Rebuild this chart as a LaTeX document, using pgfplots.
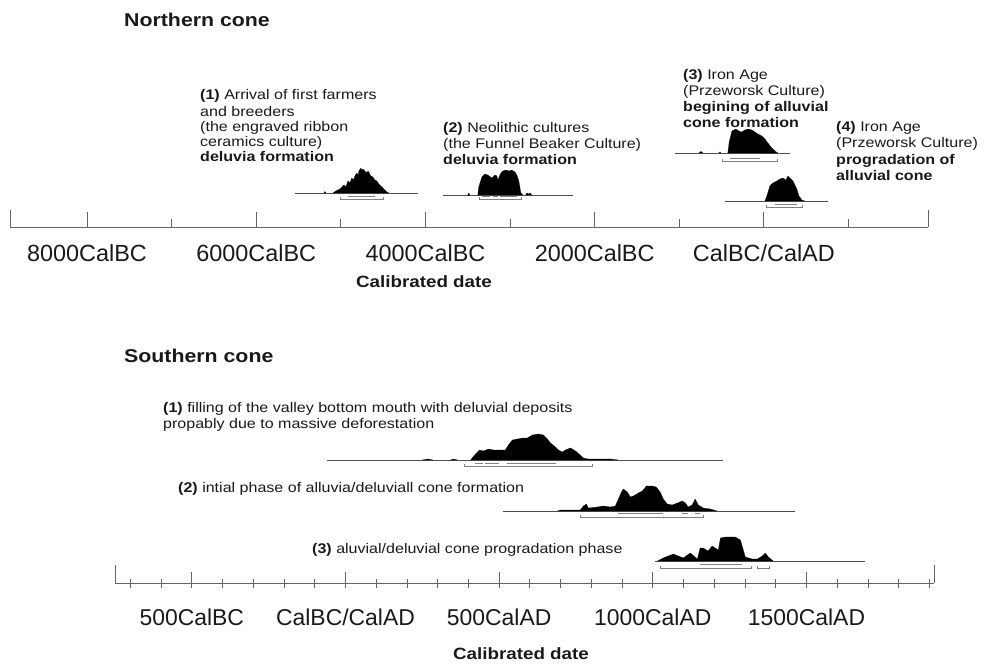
\documentclass[border=0pt]{standalone}
\usepackage{fontspec}
\setmainfont{Liberation Sans}[FakeStretch=1.15]
\newfontfamily\plainsans{Liberation Sans}
\usepackage{pgfplots}
\pgfplotsset{compat=1.18}
\newcommand{\ann}{\fontsize{14}{16}\selectfont}
\newcommand{\tit}{\fontsize{18.6}{22}\selectfont\bfseries}
\newcommand{\lab}{\fontsize{16.4}{20}\selectfont\bfseries}
\pgfplotsset{cone/.style={scale only axis, axis x line=bottom, axis y line=none,
  at={(0pt,0pt)}, anchor=south west,
  x axis line style={-, black!60, line width=0.9pt},
  every tick/.style={black!60, line width=0.9pt}, tick align=inside, ymin=0, clip=false,
  xticklabel style={anchor=base, text=black!90}},
  dist/.style={fill=black, draw=black, line width=0.2pt},
  base/.style={black!70, line width=0.8pt},
  brk/.style={black!50, line width=0.7pt}}
\begin{document}
\begin{tikzpicture}[x=1bp,y=1bp]
\useasboundingbox (0,0) rectangle (992,-668);
% ---------------- Northern cone ----------------
\begin{scope}[shift={(10bp,-227bp)}]
\begin{axis}[cone, width=918bp, height=150bp,
  xmin=-8910, xmax=1940, ymax=150,
  xtick={-8000,-6000,-4000,-2000,0},
  xticklabels={8000CalBC,6000CalBC,4000CalBC,2000CalBC,CalBC/CalAD},
  major tick length=15bp, minor xtick={-7000,-5000,-3000,-1000,1000}, minor tick length=8bp,
  extra x ticks={-8910,1940}, extra x tick labels={}, extra x tick style={major tick length=17bp},
  xticklabel style={yshift=-34.5bp, font=\plainsans\fontsize{23.5}{26}\selectfont}]
% (1)
\addplot[base] coordinates {(-5544,34) (-4090,34)};
\addplot[dist] coordinates {(-5200,34) (-5189,35.5) (-5175,34)};
\addplot[dist] coordinates {(-5094,34) (-5059,36) (-5012,38) (-4964,42) (-4940,40) (-4917,46) (-4893,44) (-4870,49) (-4850,47) (-4834,51) (-4811,54) (-4795,52) (-4787,56) (-4763,59) (-4752,57) (-4740,58) (-4716,56) (-4693,54) (-4680,56) (-4669,55) (-4645,51) (-4622,50) (-4598,47) (-4574,46) (-4551,43) (-4527,41) (-4503,39) (-4480,37) (-4456,35) (-4433,34)};
\addplot[brk] coordinates {(-5000,30) (-5000,28) (-4492,28) (-4492,30)};
\addplot[brk] coordinates {(-4917,30.5) (-4598,30.5)};
% (2)
\addplot[base] coordinates {(-3794,32) (-2258,32)};
\addplot[dist] coordinates {(-3500,32) (-3487,34) (-3475,32)};
\addplot[dist] coordinates {(-3381,32) (-3370,40) (-3333,50) (-3298,53) (-3262,52) (-3215,49) (-3180,52) (-3156,51) (-3144,47) (-3109,54) (-3085,56) (-3050,57) (-3014,56) (-2979,57) (-2943,55) (-2920,52) (-2896,46) (-2872,34) (-2849,32)};
\addplot[dist] coordinates {(-2815,32) (-2801,34) (-2780,33) (-2766,34) (-2740,32)};
\addplot[brk] coordinates {(-3357,30) (-3357,28) (-2872,28) (-2872,30)};
\addplot[brk] coordinates {(-3333,30.5) (-3239,30.5)};
\addplot[brk] coordinates {(-3203,30.5) (-3144,30.5)};
\addplot[brk] coordinates {(-3121,30.5) (-2920,30.5)};
% (3)
\addplot[base] coordinates {(-1052,74) (307,74)};
\addplot[dist] coordinates {(-770,74) (-756,75) (-740,75.5) (-721,74)};
\addplot[dist] coordinates {(-535,74) (-520,75) (-505,74)};
\addplot[dist] coordinates {(-426,74) (-410,85) (-378,96) (-331,98) (-296,96) (-260,95) (-225,97) (-189,98) (-142,97) (-106,95) (-71,93) (-24,91) (12,88) (47,84) (95,79) (130,76) (165,74)};
\addplot[brk] coordinates {(-496,68) (-496,66) (154,66) (154,68)};
\addplot[brk] coordinates {(-402,68.5) (-47,68.5)};
% (4)
\addplot[base] coordinates {(-461,26) (756,26)};
\addplot[dist] coordinates {(12,26) (35,31) (71,41) (106,44) (154,46) (189,48) (225,49) (260,47) (284,51) (319,48) (343,46) (390,38) (414,31) (449,27) (485,26)};
\addplot[brk] coordinates {(24,22) (24,20) (449,20) (449,22)};
\addplot[brk] coordinates {(130,22.5) (390,22.5)};
\end{axis}
\end{scope}
% ---------------- Southern cone ----------------
\begin{scope}[shift={(115bp,-583bp)}]
\begin{axis}[cone, width=819bp, height=140bp,
  xmin=-750, xmax=1915, ymax=140,
  xtick={-500,0,500,1000,1500},
  xticklabels={500CalBC,CalBC/CalAD,500CalAD,1000CalAD,1500CalAD},
  major tick length=11bp,
  minor xtick={-700,-600,...,1900}, minor tick length=9bp,
  minor tick style={yshift=-4.5bp},
  extra x ticks={-750,1915}, extra x tick labels={}, extra x tick style={major tick length=18bp},
  xticklabel style={yshift=-42bp, font=\plainsans\fontsize{23}{26}\selectfont}]
% (1)
\addplot[base] coordinates {(-59,123) (1229,123)};
\addplot[dist] coordinates {(250,123) (267,124) (285,123)};
\addplot[dist] coordinates {(341,123) (352,124) (364,123)};
\addplot[dist] coordinates {(407,123) (423,129) (436,133) (449,132) (465,134) (481,133) (504,133) (520,133) (530,138) (543,143) (559,144) (576,145) (592,145) (608,148) (628,149) (644,148) (657,144) (667,140) (683,136) (693,133) (706,131) (715,133) (732,135) (748,132) (764,128) (774,125) (790,124) (862,124) (888,123)};
\addplot[brk] coordinates {(387,119) (387,117) (803,117) (803,119)};
\addplot[brk] coordinates {(423,120) (446,120)};
\addplot[brk] coordinates {(455,120) (498,120)};
\addplot[brk] coordinates {(524,120) (686,120)};
% (2)
\addplot[base] coordinates {(514,72) (1463,72)};
\addplot[dist] coordinates {(689,72) (700,73) (732,73) (764,73) (774,77) (784,79) (790,75) (820,76) (839,77) (862,76) (878,77) (888,84) (898,91) (904,94) (917,91) (927,86) (937,87) (953,90) (966,92) (979,97) (998,97) (1011,96) (1024,91) (1034,84) (1047,79) (1063,78) (1080,80) (1096,82) (1106,80) (1115,76) (1128,78) (1138,84) (1148,78) (1164,75) (1187,74) (1210,72)};
\addplot[brk] coordinates {(764,68) (764,66) (1164,66) (1164,68)};
\addplot[brk] coordinates {(888,70) (1034,70)};
\addplot[brk] coordinates {(1096,70) (1115,70)};
\addplot[brk] coordinates {(1138,70) (1154,70)};
% (3)
\addplot[base] coordinates {(1008,22) (1691,22)};
\addplot[dist] coordinates {(1015,22) (1041,26) (1067,29) (1099,25) (1122,30) (1145,24) (1154,35) (1164,35) (1180,32) (1193,37) (1213,33) (1220,45) (1236,46) (1268,46) (1285,43) (1301,26) (1324,24) (1340,24) (1356,27) (1366,30) (1376,26) (1392,22)};
\addplot[brk] coordinates {(1024,17) (1024,15) (1320,15) (1320,17)};
\addplot[brk] coordinates {(1154,19) (1291,19)};
\addplot[brk] coordinates {(1340,17) (1340,15) (1379,15) (1379,17)};
\end{axis}
\end{scope}
% ---------------- texts ----------------
\begin{scope}[every node/.style={inner sep=0pt, text=black!90}]
\node[anchor=base west, font=\tit] at (124,-27) {Northern cone};
\node[anchor=base, font=\lab] at (424,-287) {Calibrated date};
\node[anchor=base west, font=\ann] at (200,-100) {\textbf{(1)} Arrival of first farmers};
\node[anchor=base west, font=\ann] at (200,-117) {and breeders};
\node[anchor=base west, font=\ann] at (200,-132) {(the engraved ribbon};
\node[anchor=base west, font=\ann] at (200,-147) {ceramics culture)};
\node[anchor=base west, font=\ann] at (200,-162) {\textbf{deluvia formation}};
\node[anchor=base west, font=\ann] at (443,-133) {\textbf{(2)} Neolithic cultures};
\node[anchor=base west, font=\ann] at (443,-149) {(the Funnel Beaker Culture)};
\node[anchor=base west, font=\ann] at (443,-165) {\textbf{deluvia formation}};
\node[anchor=base west, font=\ann] at (683,-80) {\textbf{(3)} Iron Age};
\node[anchor=base west, font=\ann] at (683,-96) {(Przeworsk Culture)};
\node[anchor=base west, font=\ann] at (683,-112) {\textbf{begining of alluvial}};
\node[anchor=base west, font=\ann] at (683,-128) {\textbf{cone formation}};
\node[anchor=base west, font=\ann] at (836,-132) {\textbf{(4)} Iron Age};
\node[anchor=base west, font=\ann] at (836,-148) {(Przeworsk Culture)};
\node[anchor=base west, font=\ann] at (836,-165) {\textbf{progradation of}};
\node[anchor=base west, font=\ann] at (836,-181) {\textbf{alluvial cone}};
\node[anchor=base west, font=\tit] at (124,-362) {Southern cone};
\node[anchor=base, font=\lab] at (521,-659) {Calibrated date};
\node[anchor=base west, font=\ann] at (163,-412) {\textbf{(1)} filling of the valley bottom mouth with deluvial deposits};
\node[anchor=base west, font=\ann] at (163,-428) {propably due to massive deforestation};
\node[anchor=base west, font=\ann] at (178,-492) {\textbf{(2)} intial phase of alluvia/deluviall cone formation};
\node[anchor=base west, font=\ann] at (312,-553) {\textbf{(3)} aluvial/deluvial cone progradation phase};
\end{scope}
\end{tikzpicture}
\end{document}
